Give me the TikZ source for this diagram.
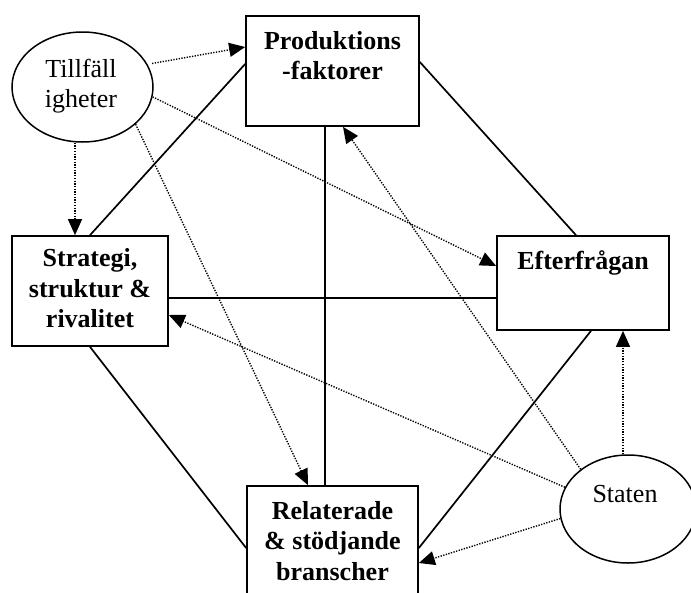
\documentclass[tikz,border=0pt]{standalone}
\usepackage{fontspec}
\setmainfont{Liberation Serif}
\usetikzlibrary{arrows.meta,shapes.geometric}
\begin{document}
\begin{tikzpicture}[x=1pt,y=-1pt,
  box/.style={draw, line width=1.7pt, rectangle, inner sep=0pt},
  oval/.style={draw, line width=1.5pt, ellipse, inner sep=0pt},
  txt/.style={inner sep=0pt, anchor=north, align=center, font=\fontsize{26}{30.5}\selectfont},
  boldtxt/.style={txt, font=\fontsize{26}{30.5}\selectfont\bfseries},
  link/.style={line width=1.7pt},
  infl/.style={line width=1.4pt, dash pattern=on 1.3pt off 1.4pt,
    -{Triangle[length=16pt,width=14pt]}}
]
\useasboundingbox (0,0) rectangle (691,592);
\clip (0,0) rectangle (691,592);

% the four determinants
\node[box, minimum width=173pt, minimum height=110pt] (prod)  at (332.5,71)  {};
\node[box, minimum width=156pt, minimum height=110pt] (strat) at (90,291)    {};
\node[box, minimum width=172pt, minimum height=94pt]  (eft)   at (583,283)   {};
\node[box, minimum width=171pt, minimum height=124pt] (rel)   at (332.5,548) {};
% the two outside factors
\node[oval, minimum width=141pt, minimum height=110pt] (till) at (82.5,87) {};
\node[oval, minimum width=136pt, minimum height=108pt] (stat) at (628,509) {};

% texts
\node[boldtxt] (prodtxt)  at (332.5,27.65) {\strut Produktions\\-faktorer};
\node[boldtxt] (strattxt) at (90,245.3)    {\strut Strategi,\\struktur \&\\rivalitet};
\node[boldtxt] (efttxt)   at (583,247.6)   {\strut Efterfrågan};
\node[boldtxt] (reltxt)   at (332.5,497.6) {\strut Relaterade\\\& stödjande\\branscher};
\node[txt]     (tilltxt)  at (81,55.6)     {\strut Tillfäll\\igheter};
\node[txt]     (stattxt)  at (625,480.6)   {\strut Staten};

% the diamond of links between the determinants
\draw[link] ([yshift=7pt]prod.west) -- (strat.north);
\draw[link] ([yshift=9pt]prod.east) -- ([xshift=-7pt]eft.north);
\draw[link] ([xshift=-7.5pt]prod.south) -- ([xshift=-7.5pt]rel.north);
\draw[link] ([yshift=-7pt]strat.east) -- ([yshift=-7pt]strat.east -| eft.west);
\draw[link] (strat.south) -- (rel.west);
\draw[link] ([xshift=8pt]eft.south) -- (rel.east);

% influence of chance
\draw[infl] ([xshift=5pt]till.20) -- ([yshift=24pt]prod.west);
\draw[infl] ([xshift=-7.5pt]till.south) -- ([xshift=-7.5pt]till.south |- strat.north);
\draw[infl] (till.-8) -- ([yshift=17pt]eft.west);
\draw[infl] (till.-35) -- ([xshift=-24.5pt]rel.north);

% influence of the state
\draw[infl] (stat.140) -- ([xshift=10.5pt]prod.south);
\draw[infl] (stat.161) -- ([yshift=-24pt]strat.east);
\draw[infl] (stat.188) -- ([yshift=-15pt]rel.east);
\draw[infl] ([xshift=-5pt]stat.north) -- ([xshift=-5pt]stat.north |- eft.south);
\end{tikzpicture}
\end{document}
